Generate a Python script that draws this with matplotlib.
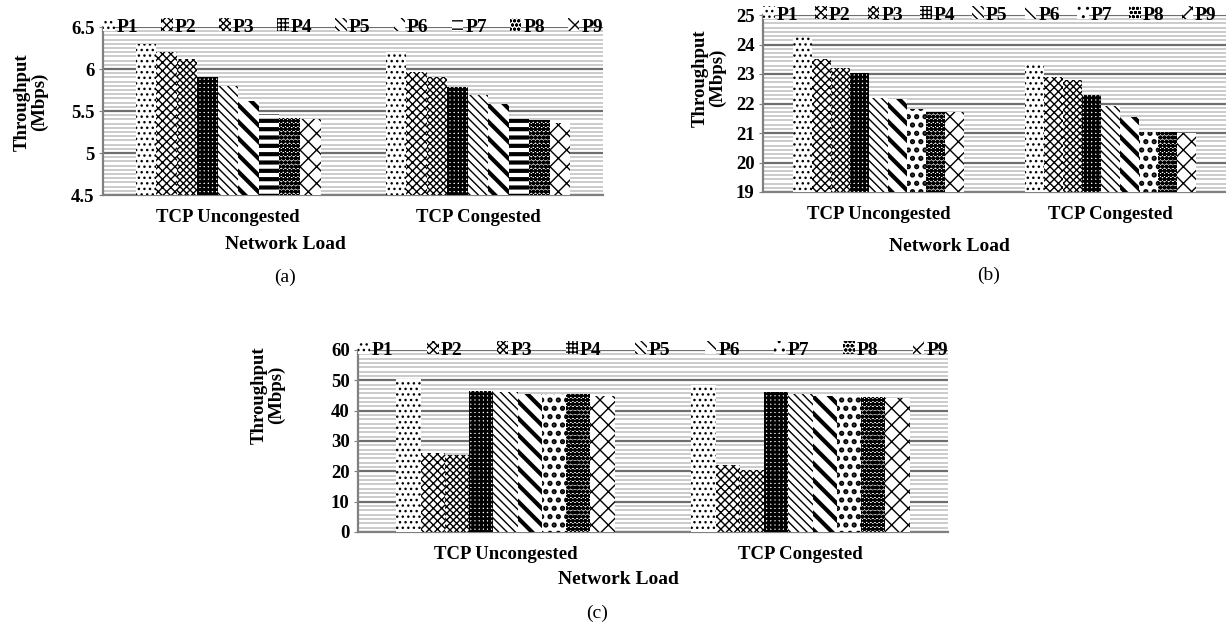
import numpy as np
import matplotlib.pyplot as plt
from matplotlib.ticker import MultipleLocator

plt.rcParams['font.family'] = ['Liberation Serif', 'DejaVu Serif']
plt.rcParams['hatch.linewidth'] = 1.0

W, H = 1226, 624

categories = ['TCP Uncongested', 'TCP Congested']
series = ['P1', 'P2', 'P3', 'P4', 'P5', 'P6', 'P7', 'P8', 'P9']

# (a) throughput, Mbps
a_uncongested = [6.30, 6.20, 6.12, 5.90, 5.80, 5.62, 5.46, 5.42, 5.40]
a_congested = [6.20, 5.96, 5.90, 5.79, 5.69, 5.58, 5.40, 5.39, 5.36]
# (b)
b_uncongested = [24.25, 23.50, 23.20, 23.05, 22.20, 22.15, 21.80, 21.70, 21.70]
b_congested = [23.33, 22.90, 22.80, 22.29, 21.90, 21.55, 21.05, 21.05, 21.00]
# (c)
c_uncongested = [50.5, 26.0, 25.5, 46.5, 46.0, 45.5, 45.5, 45.5, 45.0]
c_congested = [48.5, 22.0, 20.5, 46.2, 45.5, 45.0, 44.5, 44.5, 44.2]

hatch_a = ['...', 'xxxx', 'xxxxx', '++++', '\\\\\\\\', '\\\\', '--', 'oooo', 'xx']
hatch_bc = ['...', 'xxxx', 'xxxxx', '++++', '\\\\\\\\', '\\\\', '..', 'oooo', 'xx']
lw_a = [1.0, 1.0, 1.0, 2.0, 1.0, 3.0, 3.0, 1.6, 1.0]
lw_bc = [1.0, 1.0, 1.0, 2.0, 1.0, 3.0, 2.5, 1.6, 1.0]


def px_axes(fig, left, top, right, bottom):
    return fig.add_axes([left / W, 1 - bottom / H, (right - left) / W, (bottom - top) / H])


def panel(ax, unc, con, hatches, hlw, ylim, major, minor, fmt, legw):
    x = np.arange(len(categories))
    bw = 0.74 / len(series)
    for i, name in enumerate(series):
        vals = np.array([unc[i], con[i]])
        bars = ax.bar(x + (i - 4) * bw, vals - ylim[0], bw, bottom=ylim[0],
                      color='white', edgecolor='black', linewidth=0,
                      hatch=hatches[i], label=name, zorder=3)
        for b in bars:
            if hasattr(b, 'set_hatch_linewidth'):
                b.set_hatch_linewidth(hlw[i])
    ax.set_xlim(-0.5, 1.5)
    ax.set_ylim(*ylim)
    ax.yaxis.set_minor_locator(MultipleLocator(minor))
    ticks = np.arange(ylim[0], ylim[1] + major / 2, major)
    ax.set_yticks(ticks, [fmt(t) for t in ticks])
    ax.grid(True, which='major', axis='y', color='#6e6e6e', linewidth=1.6, zorder=0)
    ax.grid(True, which='minor', axis='y', color='#bdbdbd', linewidth=1.1, zorder=0)
    ax.set_axisbelow(True)
    ax.set_xticks(x, categories)
    for s in ['top', 'right']:
        ax.spines[s].set_visible(False)
    for s in ['left', 'bottom']:
        ax.spines[s].set_color('#808080')
        ax.spines[s].set_linewidth(1.6)
    ax.tick_params(axis='x', length=0, pad=10, labelsize=13.5)
    ax.tick_params(axis='y', which='major', length=3, color='#808080', pad=3, labelsize=13.5)
    ax.tick_params(axis='y', which='minor', length=0)
    for lab in ax.get_xticklabels() + ax.get_yticklabels():
        lab.set_fontweight('bold')
    leg = ax.legend(loc='center left', bbox_to_anchor=(0, 1.0, legw, 0), mode='expand',
                    ncol=9, frameon=False, handlelength=0.6, handleheight=0.6,
                    handletextpad=0.1, borderaxespad=0, borderpad=0,
                    prop={'weight': 'bold', 'size': 14})
    for h in leg.legend_handles:
        if hasattr(h, 'set_hatch_linewidth'):
            h.set_hatch_linewidth(1.0)
    return leg


def ftext(xp, yp, s, **kw):
    fig.text(xp / W, 1 - yp / H, s, ha='center', va='center', **kw)


fig = plt.figure(figsize=(W / 100, H / 100), dpi=100)

ax_a = px_axes(fig, 103, 27, 603, 195)
panel(ax_a, a_uncongested, a_congested, hatch_a, lw_a, (4.5, 6.5), 0.5, 0.05,
      lambda t: f'{t:g}', 1.0)
ax_b = px_axes(fig, 763, 15, 1226, 192)
panel(ax_b, b_uncongested, b_congested, hatch_bc, lw_bc, (19, 25), 1, 1 / 7,
      lambda t: f'{t:.0f}', 0.98)
ax_c = px_axes(fig, 358, 350, 948, 532)
panel(ax_c, c_uncongested, c_congested, hatch_bc, lw_bc, (0, 60), 10, 10 / 7,
      lambda t: f'{t:.0f}', 1.0)

ylab = dict(rotation=90, fontweight='bold', fontsize=13.5, linespacing=1.0)
ftext(31, 102, 'Throughput\n(Mbps)', **ylab)
ftext(709, 78, 'Throughput\n(Mbps)', **ylab)
ftext(268, 395, 'Throughput\n(Mbps)', **ylab)

ftext(285, 245, 'Network Load', fontweight='bold', fontsize=14)
ftext(949, 247, 'Network Load', fontweight='bold', fontsize=14)
ftext(618, 580, 'Network Load', fontweight='bold', fontsize=14)

ftext(285, 277, '(a)', fontsize=14)
ftext(989, 275, '(b)', fontsize=14)
ftext(597, 613, '(c)', fontsize=14)

fig.savefig('out.png', dpi=100)
